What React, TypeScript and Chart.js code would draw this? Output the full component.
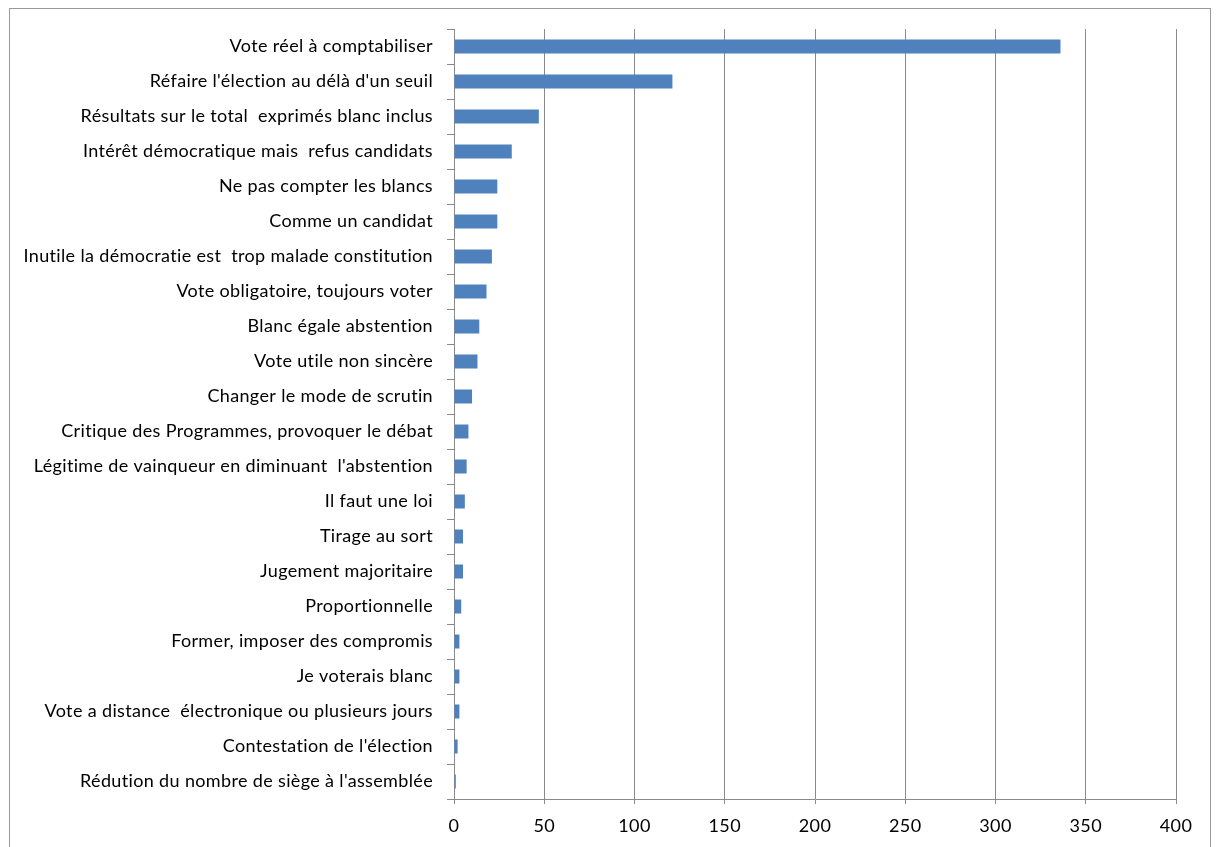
import React, { useEffect, useRef } from "react";
import { Chart, registerables } from "chart.js";

Chart.register(...registerables);

const categories: string[] = [
  "Vote réel à comptabiliser",
  "Réfaire l'élection au délà d'un seuil",
  "Résultats sur le total  exprimés blanc inclus",
  "Intérêt démocratique mais  refus candidats",
  "Ne pas compter les blancs",
  "Comme un candidat",
  "Inutile la démocratie est  trop malade constitution",
  "Vote obligatoire, toujours voter",
  "Blanc égale abstention",
  "Vote utile non sincère",
  "Changer le mode de scrutin",
  "Critique des Programmes, provoquer le débat",
  "Légitime de vainqueur en diminuant  l'abstention",
  "Il faut une loi",
  "Tirage au sort",
  "Jugement majoritaire",
  "Proportionnelle",
  "Former, imposer des compromis",
  "Je voterais blanc",
  "Vote a distance  électronique ou plusieurs jours",
  "Contestation de l'élection",
  "Rédution du nombre de siège à l'assemblée",
];

const counts: number[] = [336, 121, 47, 32, 24, 24, 21, 18, 14, 13, 10, 8, 7, 6, 5, 5, 4, 3, 3, 3, 2, 1];

const xMin = 0;
const xMax = 400;
const xStep = 50;

const FONT = "Lato, 'Open Sans', sans-serif";
const GRID = "#8a8a8a";

const spacingPlugin = {
  id: "letterSpacing",
  beforeUpdate(chart: any) {
    chart.ctx.letterSpacing = "0.35px";
  },
  beforeDraw(chart: any) {
    chart.ctx.letterSpacing = "0.35px";
  },
};

export default function App() {
  const ref = useRef<HTMLCanvasElement | null>(null);

  useEffect(() => {
    if (!ref.current) return;
    const chart = new Chart(ref.current, {
      type: "bar",
      data: {
        labels: categories,
        datasets: [
          {
            data: counts,
            backgroundColor: "#4f81bd",
            borderWidth: 0,
            barPercentage: 0.4,
            categoryPercentage: 1,
          },
        ],
      },
      plugins: [spacingPlugin],
      options: {
        indexAxis: "y",
        animation: false,
        responsive: false,
        maintainAspectRatio: false,
        layout: { padding: { left: 0, top: 29, right: 40, bottom: 0 } },
        plugins: {
          legend: { display: false },
          tooltip: { enabled: false },
        },
        scales: {
          x: {
            min: xMin,
            max: xMax,
            ticks: {
              stepSize: xStep,
              color: "#000",
              font: { family: FONT, size: 18 },
              padding: 11,
            },
            grid: {
              color: GRID,
              lineWidth: 1,
              tickLength: 5,
              drawTicks: true,
            },
            border: { display: true, color: GRID, width: 1 },
            afterFit: (scale: any) => {
              scale.height = 48;
            },
          },
          y: {
            ticks: {
              color: "#000",
              font: { family: FONT, size: 18 },
              padding: 14,
              autoSkip: false,
            },
            grid: {
              display: true,
              offset: true,
              drawOnChartArea: false,
              drawTicks: true,
              tickLength: 7,
              color: GRID,
            },
            border: { display: true, color: GRID, width: 1 },
            afterFit: (scale: any) => {
              scale.width = 454;
            },
          },
        },
      },
    });
    return () => chart.destroy();
  }, []);

  return (
    <div
      style={{
        position: "fixed",
        left: 0,
        top: 0,
        width: 1216,
        height: 847,
        overflow: "hidden",
        background: "#fff",
      }}
    >
      <div
        style={{
          position: "absolute",
          left: 9,
          top: 8,
          width: 1202,
          height: 870,
          border: "1px solid #9a9a9a",
          boxSizing: "border-box",
        }}
      />
      <canvas
        ref={ref}
        width={1216}
        height={847}
        style={{ position: "absolute", left: 0, top: 0, width: 1216, height: 847 }}
      />
    </div>
  );
}
